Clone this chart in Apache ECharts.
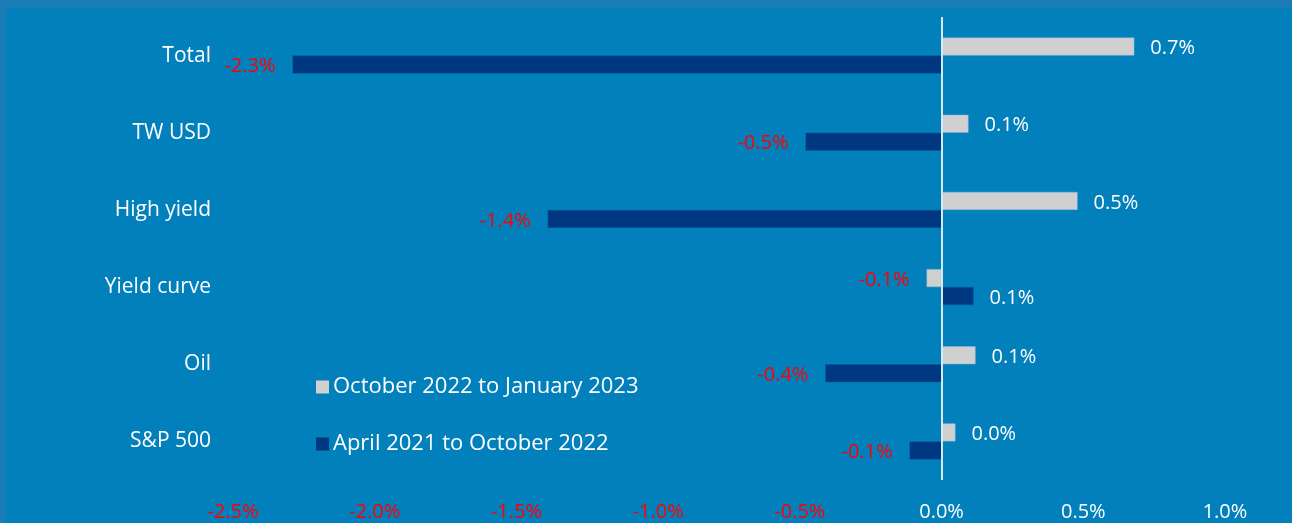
<!DOCTYPE html>
<html lang="en">
<head>
    <meta charset="UTF-8">
    <title>Contributions by factor</title>
    <script src="https://cdn.jsdelivr.net/npm/echarts@6/dist/echarts.min.js"></script>
    <style>
        html, body { margin: 0; padding: 0; background: #1a7db6; }
        #chart { width: 1292px; height: 523px; }
    </style>
</head>
<body>
    <div id="chart"></div>
    <script>
        // Categories, top to bottom
        var categories = ['Total', 'TW USD', 'High yield', 'Yield curve', 'Oil', 'S&P 500'];
        var seriesNames = ['October 2022 to January 2023', 'April 2021 to October 2022'];
        // Values in percent
        var recentValues = [0.68, 0.095, 0.48, -0.053, 0.12, 0.049];
        var earlierValues = [-2.29, -0.48, -1.39, 0.113, -0.41, -0.113];

        var chart = echarts.init(document.getElementById('chart'));
        var font = '"Open Sans", Lato, sans-serif';

        function barLabel() {
            return {
                show: true,
                fontFamily: font,
                fontSize: 20,
                distance: 16,
                offset: [0, 2],
                position: 'right',
                formatter: function (p) {
                    return p.value.toFixed(1) + '%';
                },
                color: '#ffffff'
            };
        }

        function makeData(values) {
            return values.map(function (v) {
                var item = { value: v };
                if (v < 0) {
                    item.label = { position: 'left', color: '#ff0000', distance: 17 };
                }
                return item;
            });
        }

        var option = {
            backgroundColor: '#1a7db6',
            animation: false,
            graphic: [{
                type: 'rect',
                left: 6, top: 8,
                shape: { width: 1286, height: 515 },
                style: { fill: '#0180bc' },
                z: -10
            }],
            grid: { left: 233, right: 67, top: 17, bottom: 43 },
            legend: {
                orient: 'vertical',
                left: 311,
                top: 371,
                itemWidth: 13,
                itemHeight: 13,
                itemGap: 35,
                icon: 'rect',
                itemStyle: { borderWidth: 0 },
                textStyle: { color: '#ffffff', fontSize: 22, fontFamily: font, padding: [0, 0, 0, -1] },
                data: seriesNames
            },
            xAxis: {
                type: 'value',
                min: -2.5,
                max: 1.0,
                interval: 0.5,
                splitLine: { show: false },
                axisLine: { show: false },
                axisTick: { show: false },
                axisLabel: {
                    margin: 22,
                    fontSize: 20,
                    fontFamily: font,
                    formatter: function (v) { return v.toFixed(1) + '%'; },
                    color: function (v) { return v < 0 ? '#ff0000' : '#ffffff'; }
                }
            },
            yAxis: {
                type: 'category',
                inverse: true,
                data: categories,
                axisLine: { show: false },
                axisTick: { show: false },
                axisLabel: {
                    margin: 22,
                    fontSize: 21,
                    fontFamily: font,
                    color: '#ffffff'
                }
            },
            series: [{
                name: seriesNames[0],
                type: 'bar',
                barWidth: 18,
                barGap: '0%',
                itemStyle: { color: '#d0d0d0', borderColor: '#7fb3d6', borderWidth: 0.5 },
                label: barLabel(),
                data: makeData(recentValues),
                markLine: {
                    symbol: 'none',
                    silent: true,
                    label: { show: false },
                    lineStyle: { color: '#d6e8f5', width: 2, type: 'solid' },
                    data: [{ xAxis: 0 }]
                }
            }, {
                name: seriesNames[1],
                type: 'bar',
                barWidth: 18,
                barGap: '0%',
                itemStyle: { color: '#003781', borderColor: '#0a5a9a', borderWidth: 0.5 },
                label: barLabel(),
                data: makeData(earlierValues)
            }]
        };

        chart.setOption(option);
    </script>
</body>
</html>
